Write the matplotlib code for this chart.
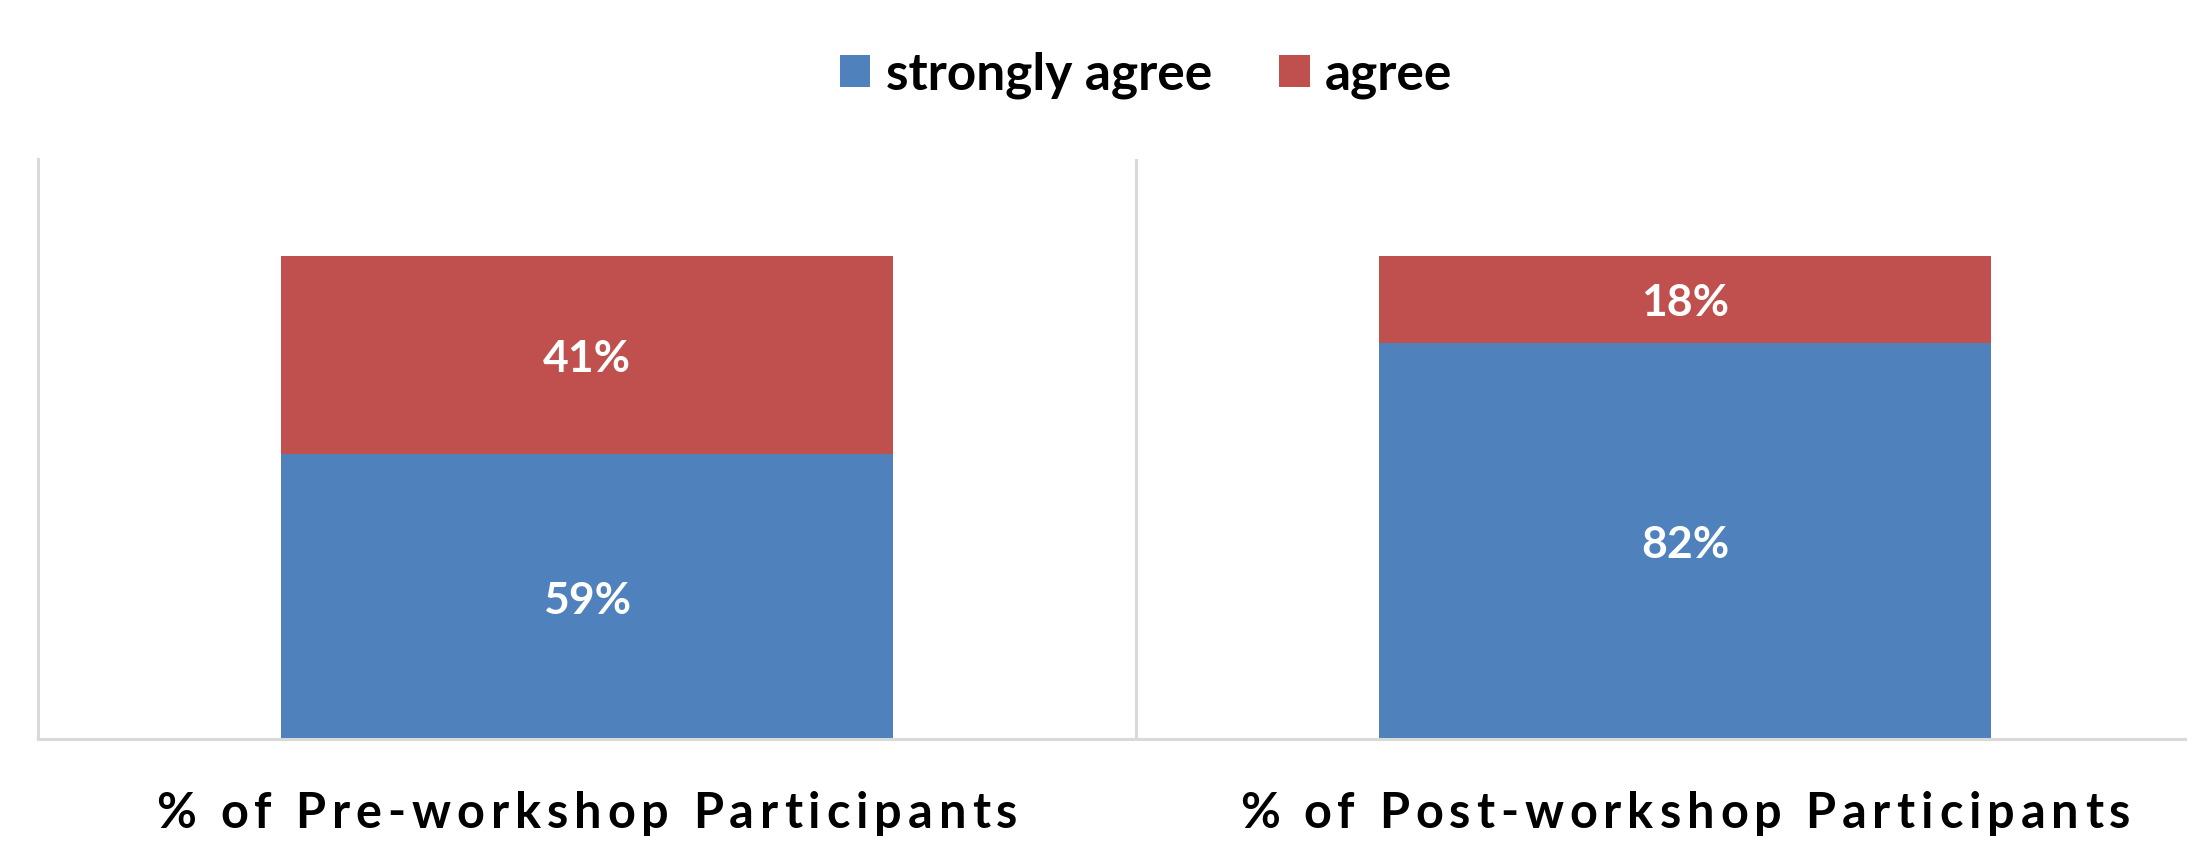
import matplotlib
matplotlib.use("Agg")
import matplotlib.pyplot as plt
from matplotlib.patches import Patch
from matplotlib.transforms import IdentityTransform, offset_copy
import numpy as np

categories = ["% of Pre-workshop Participants", "% of Post-workshop Participants"]
strongly_agree = [0.59, 0.82]
agree = [0.41, 0.18]
series_names = ["strongly agree", "agree"]
colors = ["#4F81BD", "#C0504D"]

FONT = "Lato"
W, H = 2187, 846
fig = plt.figure(figsize=(W / 100, H / 100), dpi=100)
left = 38 / W
right = 2234 / W
bottom = 1 - 739 / H
top = 1 - 159 / H
ax = fig.add_axes([left, bottom, right - left, top - bottom])

x = np.arange(len(categories))
bw = 0.558
b1 = ax.bar(x, strongly_agree, bw, color=colors[0], label=series_names[0])
b2 = ax.bar(x, agree, bw, bottom=strongly_agree, color=colors[1], label=series_names[1])

lbl_tr = offset_copy(ax.transData, fig=fig, x=0, y=-3, units="points")
for bars, vals, bots in [(b1, strongly_agree, [0, 0]), (b2, agree, strongly_agree)]:
    for r, v, bt in zip(bars, vals, bots):
        ax.text(r.get_x() + r.get_width() / 2, bt + v / 2, f"{round(v*100)}%",
                ha="center", va="center", color="white", fontsize=32,
                fontweight="bold", family=FONT, transform=lbl_tr)

ax.set_xlim(-0.5, 1.5)
ax.set_ylim(0, 1.2)
ax.set_yticks([])
ax.set_xticks([])
for s in ["top", "right"]:
    ax.spines[s].set_visible(False)
for s in ["left", "bottom"]:
    ax.spines[s].set_color("#D9D9D9")
    ax.spines[s].set_linewidth(2.2)
ax.axvline(0.5, color="#D9D9D9", lw=2.2, zorder=0)

# category labels with letter spacing
renderer = fig.canvas.get_renderer()
tracking = 6.0  # px between characters
label_y_px = H - 813
for xi, lab in zip(x, categories):
    cx_px = ax.transData.transform((xi, 0))[0]
    texts = []
    widths = []
    for ch in lab:
        t = fig.text(0, label_y_px, ch, fontsize=35, fontweight="bold", family=FONT,
                     ha="left", va="center", transform=IdentityTransform())
        if ch == " ":
            tmp = fig.text(0, 0, "a a", fontsize=35, fontweight="bold", family=FONT)
            tmp2 = fig.text(0, 0, "aa", fontsize=35, fontweight="bold", family=FONT)
            w = tmp.get_window_extent(renderer).width - tmp2.get_window_extent(renderer).width
            tmp.remove(); tmp2.remove()
        else:
            w = t.get_window_extent(renderer).width
        texts.append(t)
        widths.append(w)
    total = sum(widths) + tracking * (len(lab) - 1)
    pos = cx_px - total / 2
    for t, w in zip(texts, widths):
        t.set_x(pos)
        pos += w + tracking

handles = [Patch(facecolor=c, edgecolor="none") for c in colors]
fig.legend(handles, series_names, loc="center", bbox_to_anchor=(1146 / W, 1 - 75 / H),
           ncol=2, frameon=False, prop={"family": FONT, "weight": "bold", "size": 37},
           handlelength=0.6, handleheight=0.6, handletextpad=0.3, columnspacing=1.3)

fig.savefig("out.png", dpi=100, facecolor="white")
